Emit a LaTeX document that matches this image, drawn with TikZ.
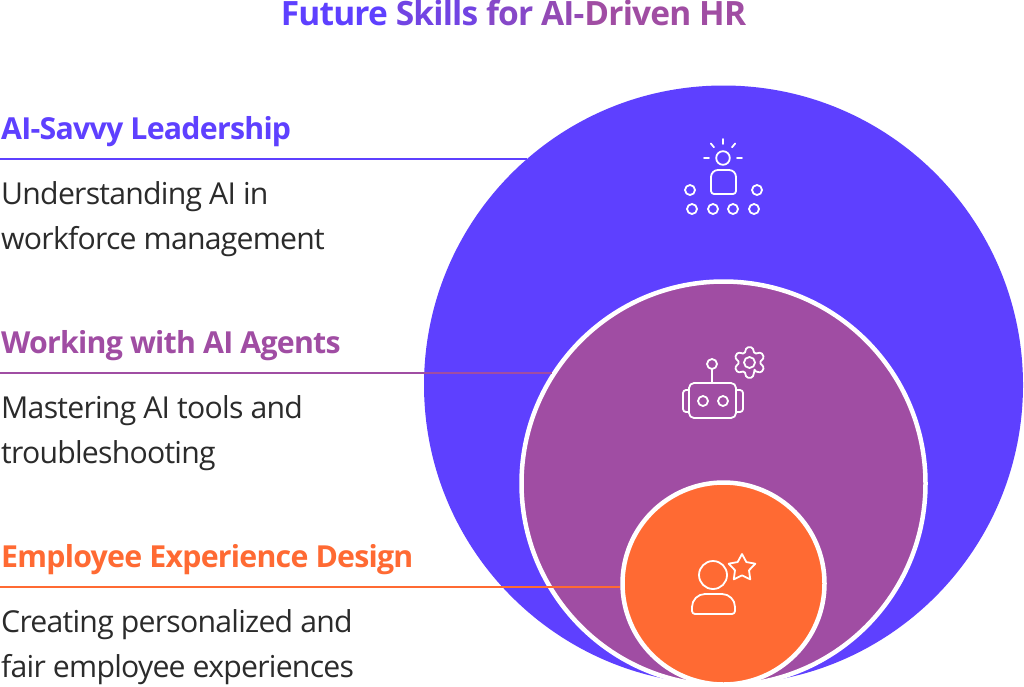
\documentclass[tikz,border=0pt]{standalone}
\usepackage{fontspec}
\setmainfont{Open Sans}[LetterSpace=-2.5]
\definecolor{SkillBlue}{RGB}{94,64,255}
\definecolor{SkillPurple}{RGB}{160,77,163}
\definecolor{SkillOrange}{RGB}{255,106,51}
\definecolor{BodyText}{RGB}{43,43,43}
\usetikzlibrary{
  positioning,
  calc,
  shapes.geometric
}
\tikzset{
  % Nested circle
  disc/.style={
    circle,
    draw=white,
    line width=4.5pt,
    inner sep=0pt
  },
  % Heading of a skill
  skillhead/.style={
    anchor=base west,
    inner sep=0pt,
    font=\fontsize{30.3}{30.3}\selectfont\bfseries
  },
  % Description of a skill
  skilltext/.style={
    anchor=base west,
    inner sep=0pt,
    text=BodyText,
    font=\fontsize{30.2}{30.2}\selectfont
  },
  % Rule under a heading
  leader/.style={
    line width=2pt
  },
  % Icon strokes
  iconline/.style={
    draw=white,
    line width=1.8pt,
    line cap=round,
    line join=round
  }
}
\begin{document}
\begin{tikzpicture}[x=1pt,y=-1pt]
  \useasboundingbox (0,0) rectangle (1024,686);
  % title
  \node[inner sep=0pt, anchor=base, font=\fontsize{33.5}{33.5}\selectfont\bfseries] (title) at (513.5,25.5) {%
    \textcolor{SkillBlue}{Future} \textcolor{SkillBlue!70!SkillPurple}{Skills} \textcolor{SkillBlue!40!SkillPurple}{for} \textcolor{SkillBlue!20!SkillPurple}{AI-}\textcolor{SkillPurple}{Driven HR}};
  % discs
  \node[circle, inner sep=0pt, fill=SkillBlue, minimum size=599pt] (outer) at (723.5,385) {};
  \node[disc, fill=SkillPurple, minimum size=404pt] (middle) at (723.5,483.5) {};
  \node[disc, fill=SkillOrange, minimum size=202pt] (inner) at (723.5,583.5) {};
  % skills
  \node[skillhead, text=SkillBlue] (headA) at (1,139.5) {AI-Savvy Leadership};
  \node[skilltext] (textA) at (1,204.5) {Understanding AI in};
  \node[skilltext] (textAb) at (1,249.5) {workforce management};
  \node[skillhead, text=SkillPurple] (headB) at (1,353.5) {Working with AI Agents};
  \node[skilltext] (textB) at (1,418.5) {Mastering AI tools and};
  \node[skilltext] (textBb) at (1,463.5) {troubleshooting};
  \node[skillhead, text=SkillOrange] (headC) at (1,567.5) {Employee Experience Design};
  \node[skilltext] (textC) at (1,632.5) {Creating personalized and};
  \node[skilltext] (textCb) at (1,677.5) {fair employee experiences};
  % rules
  \coordinate (ruleA) at (0,159);
  \coordinate (ruleB) at (0,373);
  \coordinate (ruleC) at (0,587);
  \draw[leader, SkillBlue] (ruleA) -- (ruleA -| outer.131);
  \draw[leader, SkillPurple] (ruleB) -- (ruleB -| middle.147.5);
  \draw[leader, SkillOrange] (ruleC) -- (ruleC -| inner.182);
  % leadership icon
  \coordinate (lamp) at (723,158);
  \draw[iconline] (lamp) circle (6.8);
  \foreach \a in {0,-50,-90,-130,180} {
    \draw[iconline] ($(lamp)+(\a:14)$) -- ($(lamp)+(\a:19)$);
  }
  \draw[iconline] (714,194) -- (733,194)
    arc[start angle=90, end angle=0, radius=3] -- (736,177)
    arc[start angle=0, end angle=-90, radius=7] -- (718,170)
    arc[start angle=-90, end angle=-180, radius=7] -- (711,191)
    arc[start angle=180, end angle=90, radius=3] -- cycle;
  \foreach \x in {690,757} {
    \draw[iconline] (\x,190) circle (5);
  }
  \foreach \x in {692,713,733,754} {
    \draw[iconline] (\x,209) circle (5);
  }
  % robot icon
  \draw[iconline] (712,364) circle (5);
  \draw[iconline] (712,369) -- (712,383);
  \draw[iconline, rounded corners=5pt] (689,383) rectangle (736,418);
  \draw[iconline] (703,401) circle (5);
  \draw[iconline] (723,401) circle (5);
  \draw[iconline, rounded corners=3pt] (689,390) -- (683,390) -- (683,412) -- (689,412);
  \draw[iconline, rounded corners=3pt] (736,390) -- (743,390) -- (743,412) -- (736,412);
  % gear
  \coordinate (gear) at (749.5,362.5);
  \draw[iconline] (gear) circle (5.5);
  \draw[iconline, rounded corners=1.5pt] ($(gear)+(60:10)$)
    \foreach \t in {90,150,...,390} {
      -- ($(gear)+(\t-11:15.5)$) -- ($(gear)+(\t+11:15.5)$) -- ($(gear)+(\t+30:10)$)
    } -- cycle;
  % person icon
  \draw[iconline] (713,575) circle (14);
  \draw[iconline] (695,614) -- (732,614)
    arc[start angle=90, end angle=0, radius=3] -- (735,607)
    arc[start angle=0, end angle=-90, radius=13] -- (705,594)
    arc[start angle=-90, end angle=-180, radius=13] -- (692,611)
    arc[start angle=180, end angle=90, radius=3] -- cycle;
  \node[star, star points=5, star point ratio=1.9, iconline, inner sep=0pt, minimum size=28pt] (badge) at (742,568) {};
\end{tikzpicture}
\end{document}
